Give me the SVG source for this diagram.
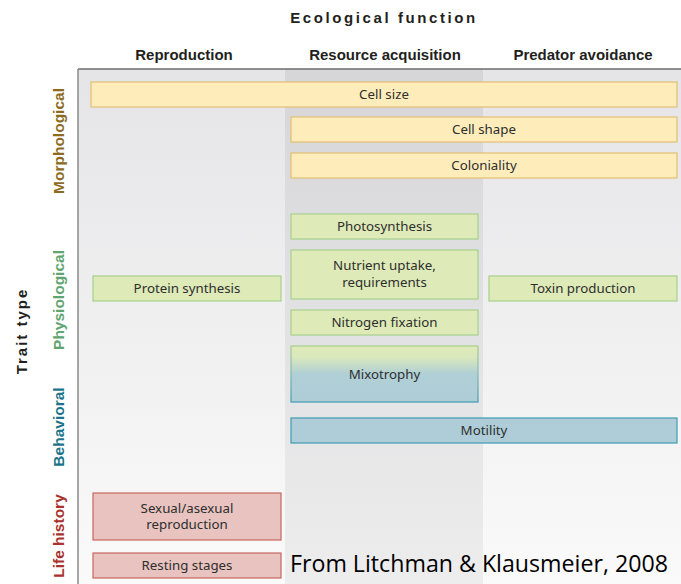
<svg xmlns="http://www.w3.org/2000/svg" width="681" height="584" viewBox="0 0 681 584">
<defs>
<linearGradient id="bgPanel" x1="0" y1="0" x2="0" y2="1">
<stop offset="0" stop-color="#e5e5e7"/>
<stop offset="1" stop-color="#fafafa"/>
</linearGradient>
<linearGradient id="bgMid" x1="0" y1="0" x2="0" y2="1">
<stop offset="0" stop-color="#d6d6d8"/>
<stop offset="1" stop-color="#ededee"/>
</linearGradient>
<linearGradient id="mixo" x1="0" y1="0" x2="0" y2="1">
<stop offset="0" stop-color="#dfeab9"/>
<stop offset="0.2" stop-color="#dae8bc"/>
<stop offset="0.5" stop-color="#b0cfd6"/>
<stop offset="1" stop-color="#aecdd8"/>
</linearGradient>
<linearGradient id="mixoStroke" x1="0" y1="0" x2="0" y2="1">
<stop offset="0" stop-color="#a9cf8c"/>
<stop offset="0.5" stop-color="#7fb8b0"/>
<stop offset="1" stop-color="#3f9cb1"/>
</linearGradient>
<style>
.yel{fill:#feedbb;stroke:#dfbf72;stroke-width:1.2}
.grn{fill:#deeab8;stroke:#a6d08b;stroke-width:1.2}
.blu{fill:#aecdd8;stroke:#3f9cb1;stroke-width:1.2}
.pnk{fill:#e8c3bf;stroke:#c96760;stroke-width:1.2}
.lbl{font-family:"Noto Sans","Open Sans",sans-serif;font-size:13.3px;fill:#2e2e2e;text-anchor:middle}
.hdr{font-family:"Liberation Sans",Arial,sans-serif;font-weight:bold;font-size:15px;fill:#231f20;text-anchor:middle}
.row{font-family:"Liberation Sans",Arial,sans-serif;font-weight:bold;font-size:15.5px;text-anchor:middle}
</style>
</defs>
<rect x="78" y="69" width="603" height="515" fill="url(#bgPanel)"/>
<rect x="285" y="69" width="198" height="515" fill="url(#bgMid)"/>
<line x1="78" y1="69" x2="681" y2="69" stroke="#6d6d6d" stroke-width="1.5"/>
<line x1="78" y1="69" x2="78" y2="584" stroke="#8a8a8a" stroke-width="1.5"/>

<text x="384" y="23" class="hdr" font-size="17.5" letter-spacing="2.6">Ecological function</text>
<text x="184" y="60" class="hdr">Reproduction</text>
<text x="385" y="60" class="hdr">Resource acquisition</text>
<text x="583" y="60" class="hdr">Predator avoidance</text>

<text transform="translate(27,331) rotate(-90)" class="hdr" font-size="19" letter-spacing="2" text-anchor="middle">Trait type</text>
<text transform="translate(64,141) rotate(-90)" class="row" fill="#8c6b1f">Morphological</text>
<text transform="translate(64,300) rotate(-90)" class="row" fill="#5fa56f">Physiological</text>
<text transform="translate(64,427) rotate(-90)" class="row" fill="#1b7489">Behavioral</text>
<text transform="translate(64,536) rotate(-90)" class="row" fill="#a8322d">Life history</text>

<g id="connectors"></g>

<g id="cell-size"><rect class="yel" x="91" y="82" width="586" height="25"/><text class="lbl" x="384" y="99">Cell size</text></g>
<g id="cell-shape"><rect class="yel" x="291" y="117" width="386" height="25"/><text class="lbl" x="484" y="134">Cell shape</text></g>
<g id="coloniality"><rect class="yel" x="291" y="153" width="386" height="25"/><text class="lbl" x="484" y="170">Coloniality</text></g>
<g id="photosynthesis"><rect class="grn" x="291" y="214" width="187" height="25"/><text class="lbl" x="384.5" y="231">Photosynthesis</text></g>
<g id="nutrient-uptake"><rect class="grn" x="291" y="250" width="187" height="49"/><text class="lbl" x="384.5" y="270">Nutrient uptake,</text><text class="lbl" x="384.5" y="286.5">requirements</text></g>
<g id="protein-synthesis"><rect class="grn" x="93" y="276" width="188" height="25"/><text class="lbl" x="187" y="293">Protein synthesis</text></g>
<g id="toxin-production"><rect class="grn" x="489" y="276" width="188" height="25"/><text class="lbl" x="583" y="293">Toxin production</text></g>
<g id="nitrogen-fixation"><rect class="grn" x="291" y="310" width="187" height="25"/><text class="lbl" x="384.5" y="327">Nitrogen fixation</text></g>
<g id="mixotrophy"><rect fill="url(#mixo)" stroke="url(#mixoStroke)" stroke-width="1.2" x="291" y="346" width="187" height="56"/><text class="lbl" x="384.5" y="379">Mixotrophy</text></g>
<g id="motility"><rect class="blu" x="291" y="418" width="386" height="25"/><text class="lbl" x="484" y="435">Motility</text></g>
<g id="sexual-asexual"><rect class="pnk" x="93" y="493" width="188" height="47"/><text class="lbl" x="187" y="512.5">Sexual/asexual</text><text class="lbl" x="187" y="529">reproduction</text></g>
<g id="resting-stages"><rect class="pnk" x="93" y="553" width="188" height="25"/><text class="lbl" x="187" y="570">Resting stages</text></g>

<text x="290" y="572" font-family="'Open Sans','Noto Sans',sans-serif" font-size="24" fill="#000" textLength="378" lengthAdjust="spacingAndGlyphs">From Litchman &amp; Klausmeier, 2008</text>
</svg>
